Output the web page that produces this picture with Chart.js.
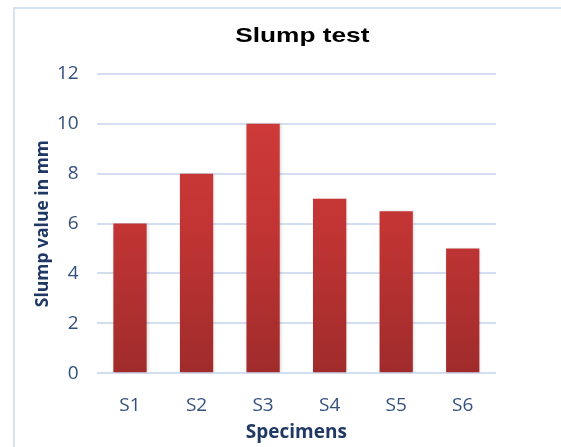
<!DOCTYPE html>
<html>
<head>
<meta charset="utf-8">
<script src="https://cdn.jsdelivr.net/npm/chart.js@4"></script>
<style>
html,body{margin:0;padding:0;background:#fff;}
#wrap{position:relative;width:561px;height:447px;}
</style>
</head>
<body>
<div id="wrap"><canvas id="c" width="561" height="447"></canvas></div>
<script>
const categories = ["S1","S2","S3","S4","S5","S6"];
const slumpValues = [6, 8, 10, 7, 6.5, 5];
const yTicks = [0, 2, 4, 6, 8, 10, 12];
const chartTitle = 'Slump test';

const framePlugin = {
  id: 'frame',
  beforeDraw(chart) {
    const ctx = chart.ctx;
    ctx.save();
    ctx.fillStyle = '#ffffff';
    ctx.fillRect(0, 0, chart.width, chart.height);
    ctx.strokeStyle = '#d6e2f3';
    ctx.lineWidth = 2;
    ctx.strokeRect(14, 8, 600, 500);
    ctx.restore();
  },
  beforeDatasetsDraw(chart) {
    chart.ctx.save();
    chart.ctx.shadowColor = 'rgba(0,0,0,0.18)';
    chart.ctx.shadowBlur = 3;
    chart.ctx.shadowOffsetX = 1;
    chart.ctx.shadowOffsetY = 0;
  },
  afterDatasetsDraw(chart) {
    chart.ctx.restore();
  },
  afterDraw(chart) {
    const ctx = chart.ctx;
    const a = chart.chartArea;
    ctx.save();
    ctx.fillStyle = '#000000';
    ctx.font = 'bold 21px "Liberation Sans", Arial, sans-serif';
    ctx.textAlign = 'center';
    ctx.textBaseline = 'middle';
    ctx.translate((a.left + a.right) / 2 + 6, a.top - 38);
    ctx.scale(1.25, 1);
    ctx.fillText(chartTitle, 0, 0);
    ctx.restore();
  }
};

function barGradient(context) {
  const chart = context.chart;
  const area = chart.chartArea;
  if (!area) return '#c0353a';
  const g = chart.ctx.createLinearGradient(0, area.top, 0, area.bottom);
  g.addColorStop(0, '#d23c3a');
  g.addColorStop(0.5, '#c23534');
  g.addColorStop(1, '#a02b2b');
  return g;
}

new Chart(document.getElementById('c'), {
  type: 'bar',
  data: {
    labels: categories,
    datasets: [{
      data: slumpValues,
      backgroundColor: barGradient,
      borderWidth: 0,
      categoryPercentage: 1.0,
      barPercentage: 0.5
    }]
  },
  plugins: [framePlugin],
  options: {
    responsive: false,
    animation: false,
    layout: { padding: { left: 33, right: 65, top: 74, bottom: 5 } },
    plugins: {
      legend: { display: false },
      tooltip: { enabled: false },
      title: { display: false }
    },
    scales: {
      x: {
        grid: { display: false, drawTicks: false },
        border: { display: false },
        ticks: {
          color: '#34507c',
          font: { family: 'Open Sans, sans-serif', size: 19 },
          padding: 21
        },
        title: {
          display: true,
          text: 'Specimens',
          color: '#203864',
          font: { family: 'Open Sans, sans-serif', size: 19, weight: 'bold', lineHeight: 1.0 },
          padding: { top: -15, bottom: 0 }
        }
      },
      y: {
        min: 0,
        max: 12,
        afterBuildTicks(axis) { axis.ticks = yTicks.map(v => ({ value: v })); },
        grid: { color: '#d3dff1', lineWidth: 2, drawTicks: false },
        border: { display: false },
        ticks: {
          color: '#34507c',
          font: { family: 'Open Sans, sans-serif', size: 19 },
          padding: 18
        },
        title: {
          display: true,
          text: 'Slump value in mm',
          color: '#203864',
          font: { family: 'Open Sans, sans-serif', size: 17.5, weight: 'bold' },
          padding: { top: 0, bottom: -15 }
        }
      }
    }
  }
});
</script>
</body>
</html>
